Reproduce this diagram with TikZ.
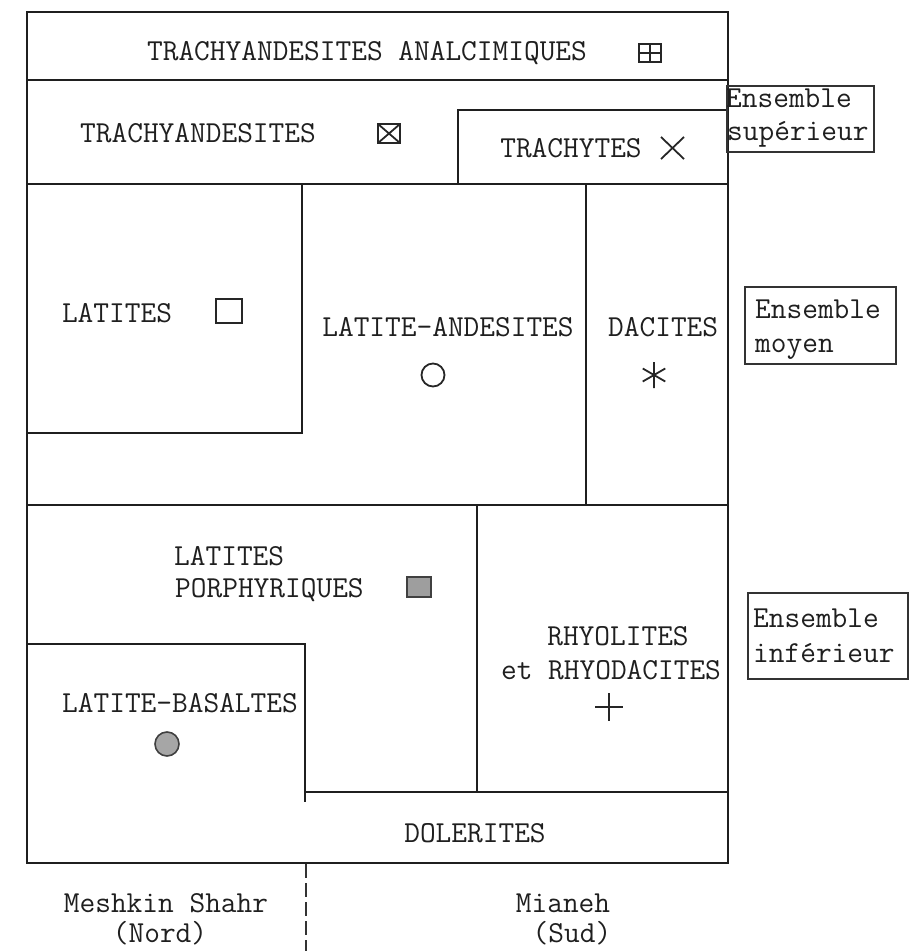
\documentclass[tikz,border=0pt]{standalone}
\usepackage{fontspec}
\begin{document}
\begin{tikzpicture}[x=1pt,y=-1pt,
  frame/.style={line width=2.4pt, draw=black!88},
  thinframe/.style={line width=1.8pt, draw=black!80},
  lbl/.style={font=\fontsize{30.5}{34}\selectfont\ttfamily, inner sep=0pt, text=black!88},
  sym/.style={line width=1.8pt, draw=black!85},
]
\useasboundingbox (0,0) rectangle (911,951);

% main frame and partition lines
\draw[frame] (27,12) rectangle (728,863);
\draw[frame] (27,80) -- (728,80);
\draw[frame] (458,184) -- (458,110) -- (728,110);
\draw[frame] (27,184) -- (728,184);
\draw[frame] (302,184) -- (302,433) -- (27,433);
\draw[frame] (586,184) -- (586,505);
\draw[frame] (27,505) -- (728,505);
\draw[frame] (477,505) -- (477,792);
\draw[frame] (27,644) -- (305,644) -- (305,802);
\draw[frame] (305,792) -- (728,792);

% labels in the frame
\node[lbl, anchor=base] (ta) at (367,60) {TRACHYANDESITES ANALCIMIQUES};
\node[lbl, anchor=base] (tr) at (198,142) {TRACHYANDESITES};
\node[lbl, anchor=base] (ty) at (571,157) {TRACHYTES};
\node[lbl, anchor=base] (la) at (117,322) {LATITES};
\node[lbl, anchor=base] (lan) at (448,336) {LATITE-ANDESITES};
\node[lbl, anchor=base west] (da) at (608,336) {DACITES};
\node[lbl, anchor=base west] (lp1) at (174,565) {LATITES};
\node[lbl, anchor=base west] (lp2) at (175,597) {PORPHYRIQUES};
\node[lbl, anchor=base] (rh1) at (618,645) {RHYOLITES};
\node[lbl, anchor=base] (rh2) at (611,679) {et RHYODACITES};
\node[lbl, anchor=base west] (lb) at (62,712) {LATITE-BASALTES};
\node[lbl, anchor=base] (do) at (475,842) {DOLERITES};

% symbols
% boxed plus
\draw[sym] (639,44) rectangle (661,62);
\draw[sym] (650,44) -- (650,62) (639,53) -- (661,53);
% boxed x
\draw[sym] (378,124) rectangle (400,143);
\draw[sym] (378,124) -- (400,143) (378,143) -- (400,124);
% cross
\draw[sym] (661,137) -- (684,159) (661,159) -- (684,137);
% open square
\draw[sym] (216,299) rectangle (242,323);
% open circle
\draw[sym] (433,375) circle (11.5);
% asterisk
\draw[sym] (654,362) -- (654,388)
  (654,375) ++(30:13) -- ++(210:26)
  (654,375) ++(150:13) -- ++(330:26);
% grey square
\draw[line width=1.4pt, draw=black!75, fill=black!38] (407,577) rectangle (431,597);
% plus
\draw[sym] (595,707) -- (623,707) (609,693) -- (609,721);
% grey circle
\draw[line width=1.6pt, draw=black!75, fill=black!35] (167,744) circle (12);

% ensemble boxes
\draw[thinframe] (727,86) rectangle (874,152);
\node[lbl, anchor=base west] (es1) at (726,107) {Ensemble};
\node[lbl, anchor=base west] (es2) at (727,140) {supérieur};
\draw[thinframe] (745,287) rectangle (896,364);
\node[lbl, anchor=base west] (em1) at (755,318) {Ensemble};
\node[lbl, anchor=base west] (em2) at (755,352) {moyen};
\draw[thinframe] (748,593) rectangle (908,679);
\node[lbl, anchor=base west] (ei1) at (753,627) {Ensemble};
\node[lbl, anchor=base west] (ei2) at (753,662) {inférieur};

% bottom
\coordinate (d1) at (306,864);
\coordinate (d2) at (306,951);
\draw[line width=1.6pt, draw=black!80, dash pattern=on 14pt off 5pt] (d1) -- (d2);
\node[lbl, anchor=base] (ms) at (166,912) {Meshkin Shahr};
\node[lbl, anchor=base] (no) at (160,942) {(Nord)};
\node[lbl, anchor=base] (mi) at (563,912) {Mianeh};
\node[lbl, anchor=base] (su) at (572,942) {(Sud)};
\end{tikzpicture}
\end{document}
